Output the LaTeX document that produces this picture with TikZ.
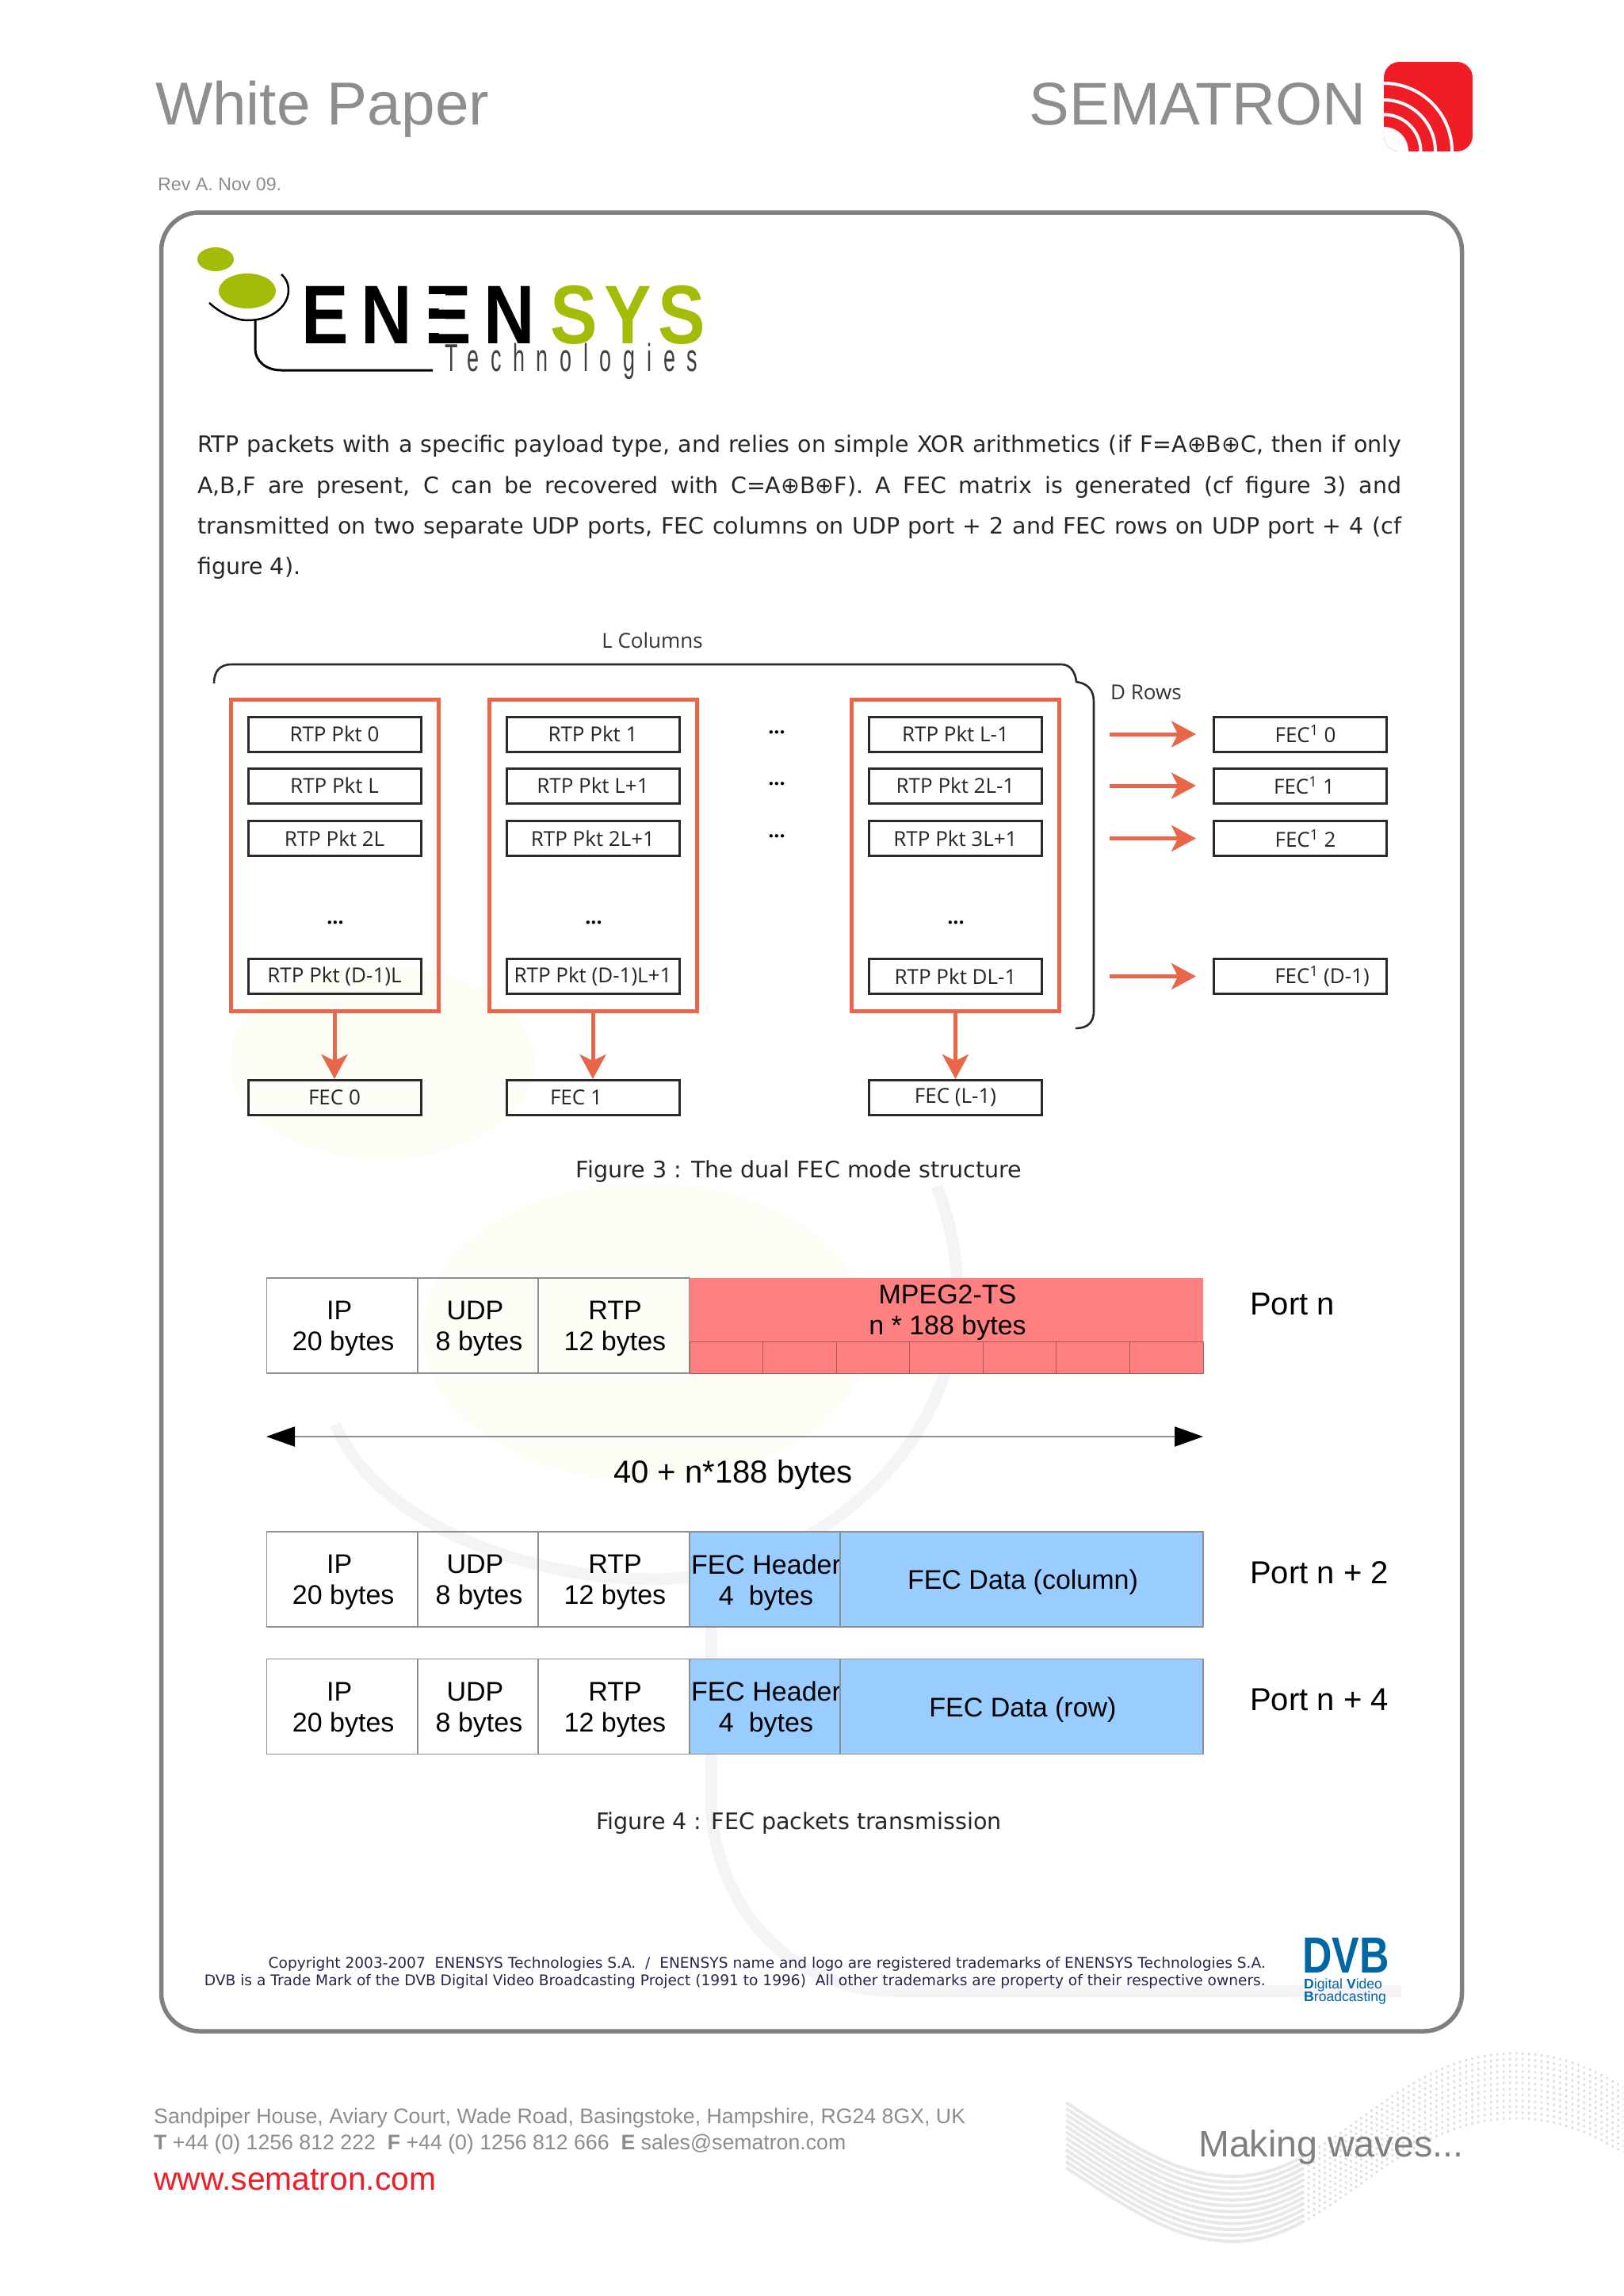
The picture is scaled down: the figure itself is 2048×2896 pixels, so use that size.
\documentclass[tikz,border=0pt]{standalone}
\usepackage{fontspec}
\setmainfont{Liberation Sans}
\newfontfamily\bodyfont{DejaVu Sans}
\newfontfamily\figfont{Open Sans}
\newfontfamily\enenfont[FakeStretch=0.85,LetterSpace=15]{Liberation Sans}
\newfontfamily\sysfont[FakeStretch=0.85,LetterSpace=8]{Liberation Sans}
\newfontfamily\techfont[FakeStretch=0.55,LetterSpace=30]{Liberation Sans}
\newfontfamily\dvbfont[FakeStretch=0.81]{Liberation Sans}
\usetikzlibrary{arrows.meta,positioning}
\definecolor{pagegrey}{HTML}{808080}
\definecolor{titlegrey}{HTML}{8E8E8E}
\definecolor{footgrey}{HTML}{8C8C8C}
\definecolor{semared}{HTML}{F01C26}
\definecolor{fecorange}{HTML}{E8674A}
\definecolor{pktline}{HTML}{2A2A2A}
\definecolor{cellline}{HTML}{8E8E8E}
\definecolor{tsred}{HTML}{FF8080}
\definecolor{tsline}{HTML}{A85A5A}
\definecolor{fecblue}{HTML}{99CCFF}
\definecolor{enengreen}{HTML}{A4BC08}
\definecolor{dvbblue}{HTML}{0066A6}
\definecolor{copynavy}{HTML}{26264A}
\definecolor{markyellow}{HTML}{FDFDF6}
\definecolor{markgrey}{HTML}{F5F3F5}
\newcommand{\fsz}[1]{\fontsize{#1}{#1}\selectfont}
\tikzset{
  page/.style={x=1pt, y=-1pt},
  % the big rounded panel
  panel/.style={draw=pagegrey, line width=5.5pt, rounded corners=48pt, inner sep=0pt,
                minimum width=1641pt, minimum height=2294pt},
  % figure 3: packet boxes, columns and arrows
  pktbox/.style={draw=pktline, line width=3pt, inner sep=0pt, minimum width=218pt,
                 minimum height=44pt, font=\figfont\fsz{26}, text=black!85},
  colbox/.style={draw=fecorange, line width=5pt, inner sep=0pt, minimum width=262pt,
                 minimum height=393pt},
  fecarrow/.style={draw=fecorange, line width=5pt,
                   -{Stealth[length=31pt,width=33pt,inset=8pt]}},
  dotsmark/.style={font=\figfont\bfseries\fsz{25}, inner sep=0pt},
  figlabel/.style={font=\figfont\fsz{26}, text=black!80, inner sep=0pt},
  % figure 4: packet layout cells
  cell/.style={draw=cellline, line width=1.4pt, inner sep=0pt, minimum height=120pt},
  celltext/.style={align=center, inner sep=0pt, xshift=1.5pt, yshift=-4pt,
                   font=\fontsize{34}{39}\selectfont},
  tscell/.style={draw=tsline, line width=1pt, fill=tsred, inner sep=0pt,
                 minimum width=92.57pt, minimum height=40pt},
  portlabel/.style={font=\fsz{40}, anchor=west, inner sep=0pt},
  lenarrow/.style={draw=cellline, line width=2pt,
                   {Triangle[length=36pt,width=25pt,black]}-{Triangle[length=36pt,width=25pt,black]}},
  % running text
  bodytext/.style={font=\bodyfont\fontsize{28.5}{51.2}\selectfont, text=black!85, inner sep=0pt},
  caption/.style={font=\bodyfont\fsz{28.6}, text=black!85, inner sep=0pt},
  footnote/.style={font=\bodyfont\fsz{18.6}, text=copynavy, anchor=east, inner sep=0pt},
  foot/.style={font=\fsz{26.7}, text=footgrey, anchor=west, inner sep=0pt},
  % background watermark
  markarc/.style={draw=markgrey, line width=15pt},
  wavesolid/.style={draw=black!9, line width=4pt},
  wavedots/.style={draw=black!13, line width=3pt, dash pattern=on 2.5pt off 5.5pt},
}
% a packet box at a centre
\newcommand{\pk}[4]{\node[pktbox] (#1) at (#2,#3) {#4};}
% a cell between x=#3 and x=#4, in the row centred on y=#5, with its text on top
\newcommand{\cl}[6]{%
  \node[cell, #2, minimum width=#4pt-#3pt] (#1) at ({(#3+#4)/2},#5) {};%
  \node[celltext] (#1t) at (#1) {#6};%
}
% the three cells that start every row
\newcommand{\hdrrow}[2]{%
  \cl{ip#1}{}{336.5}{527}{#2}{IP\hspace*{10pt}\\20 bytes}
  \cl{udp#1}{}{527}{679}{#2}{UDP\hspace*{10pt}\\8 bytes}
  \cl{rtp#1}{}{679}{870}{#2}{RTP\\12 bytes}
}
\newcommand{\fecrow}[3]{%
  \cl{fh#1}{fill=fecblue}{870}{1060}{#2}{FEC Header\\4~~bytes}
  \cl{fd#1}{fill=fecblue}{1060}{1518}{#2}{#3}
}

\begin{document}
\begin{tikzpicture}[page]
  \useasboundingbox (0,0) rectangle (2048,2896);

  % watermark, behind everything
  \fill[markyellow] (482,1340) ellipse (192 and 122);
  \fill[markyellow] (815,1680) ellipse (282 and 188);
  \draw[markarc] (423,1797) .. controls (480,1930) and (680,1992) .. (825,1992)
    .. controls (1040,1992) and (1290,1780) .. (1182,1496);
  \draw[markarc] (897,1992) -- (897,2280) .. controls (905,2400) and (990,2511) .. (1130,2511) -- (1768,2511);

  % footer wave
  \foreach \d in {0,7.45,...,82} {
    \draw[wavesolid] (1345,2652+\d) .. controls (1440,2715+\d) and (1490,2745+\d) .. (1557,2745+\d)
      .. controls (1587.75,2745+\d) and (1615.8,2735.3+\d) .. (1643,2720.7+\d);
    \draw[wavedots] (1643,2720.7+\d) .. controls (1724.4,2677+\d) and (1797.5,2590+\d) .. (1910,2590+\d)
      .. controls (1970,2590+\d) and (2010,2610+\d) .. (2048,2633+\d);
  }

  % page header
  \node[font=\fsz{76.5}, text=titlegrey, anchor=base west, inner sep=0pt] (title) at (196,157) {White Paper};
  \node[font=\fsz{76}, text=titlegrey, anchor=base east, inner sep=0pt] (brand) at (1724,157) {SEMATRON};
  \begin{scope}
    \clip[rounded corners=20pt] (1746,191) -- (1746,78) -- (1858,78) -- (1858,191) -- cycle;
    \fill[semared] (1746,78) rectangle (1858,191);
    \fill[white] (1746,191) circle (31);
    \foreach \r in {46.5,65,86}
      \draw[white, line width=4pt] (1746,191) circle (\r);
  \end{scope}
  \node[foot, font=\fsz{23.2}] (rev) at (199,233) {Rev A. Nov 09.};

  \node[panel] (panel) at (1024,1415) {};

  % ENENSYS logo
  \fill[enengreen] (272,327) ellipse (23 and 15);
  \fill[enengreen] (312,367) ellipse (36 and 22);
  \draw[black, line width=2.5pt] (264,382) .. controls (280,397) and (300,404) .. (312,404)
    .. controls (345,404) and (364,385) .. (364,366) .. controls (364,357) and (360,350) .. (355,346);
  \draw[black, line width=3pt] (322,404) -- (322,440) .. controls (322,455) and (335,467) .. (355,467) -- (546,467);
  \node[font=\enenfont\bfseries\fsz{105}, anchor=base west, inner sep=0pt] (enen) at (380,433) {ENEN};
  \fill[white] (540,371) rectangle (562,389);
  \fill[white] (540,402) rectangle (562,420);
  \node[font=\sysfont\bfseries\fsz{105}, text=enengreen, anchor=base east, inner sep=0pt] (sys) at (890,433) {SYS};
  \node[font=\techfont\fsz{49}, text=black!75, anchor=base west, inner sep=0pt] (tech) at (561,468) {Technologies};

  % paragraph
  \node[bodytext, text width=1519pt, align=justify, anchor=north west] (para) at (249,549)
    {RTP packets with a specific payload type, and relies on simple XOR arithmetics (if F=A⊕B⊕C, then if only\linebreak
     A,B,F are present, C can be recovered with C=A⊕B⊕F). A FEC matrix is generated (cf figure 3) and\linebreak
     transmitted on two separate UDP ports, FEC columns on UDP port + 2 and FEC rows on UDP port + 4 (cf\linebreak
     figure 4).};

  % ----- figure 3 -----
  \node[figlabel] (lcols) at (823,808) {L Columns};
  \node[figlabel] (drows) at (1446,873) {D Rows};
  \draw[pktline, line width=2.6pt] (270,862) .. controls (270,846) and (278,838) .. (292,838) -- (1339,838)
    .. controls (1352,838) and (1357,850) .. (1358,860) .. controls (1372,862) and (1380,870) .. (1380,885)
    -- (1380,1275) .. controls (1380,1290) and (1372,1297) .. (1357,1297);

  \node[colbox] (col0) at (422,1078.5) {};
  \node[colbox] (col1) at (748.5,1078.5) {};
  \node[colbox] (col2) at (1205.5,1078.5) {};

  \pk{a0}{422}{926}{RTP Pkt 0}
  \pk{a1}{422}{991}{RTP Pkt L}
  \pk{a2}{422}{1057.5}{RTP Pkt 2L}
  \pk{a3}{422}{1231.5}{RTP Pkt (D-1)L}
  \pk{b0}{748}{926}{RTP Pkt 1}
  \pk{b1}{748}{991}{RTP Pkt L+1}
  \pk{b2}{748}{1057.5}{RTP Pkt 2L+1}
  \pk{b3}{748}{1231.5}{RTP Pkt (D-1)L+1}
  \pk{c0}{1205.5}{926}{RTP Pkt L-1}
  \pk{c1}{1205.5}{991}{RTP Pkt 2L-1}
  \pk{c2}{1205.5}{1057.5}{RTP Pkt 3L+1}
  \pk{c3}{1205.5}{1231.5}{RTP Pkt DL-1}

  \node[dotsmark] (da) at (423,1164) {...};
  \node[dotsmark] (db) at (749,1164) {...};
  \node[dotsmark] (dc) at (1206,1164) {...};
  \node[dotsmark] (d0) at (980,924) {...};
  \node[dotsmark] (d1) at (980,989) {...};
  \node[dotsmark] (d2) at (980,1055) {...};

  \pk{fc0}{422}{1384.5}{FEC 0}
  \pk{fc1}{748}{1384.5}{FEC 1\hspace*{42pt}}
  \pk{fc2}{1205.5}{1384.5}{FEC (L-1)}
  \pk{fr0}{1640.5}{926}{\hspace*{13pt}FEC\textsuperscript{1} 0}
  \pk{fr1}{1640.5}{991}{\hspace*{10pt}FEC\textsuperscript{1} 1}
  \pk{fr2}{1640.5}{1057.5}{\hspace*{13pt}FEC\textsuperscript{1} 2}
  \pk{fr3}{1640.5}{1231.5}{\hspace*{55pt}FEC\textsuperscript{1} (D-1)}

  \draw[fecarrow] (col0.south -| fc0) -- (fc0.north);
  \draw[fecarrow] (col1.south -| fc1) -- (fc1.north);
  \draw[fecarrow] (col2.south -| fc2) -- (fc2.north);
  \foreach \i/\y in {0/926,1/991,2/1057.5,3/1231.5} {
    \coordinate (rs\i) at (1400,\y);
    \draw[fecarrow, shorten >=21pt] (rs\i) -- (fr\i.west);
  }

  \node[caption] (cap3) at (1008,1478) {Figure 3 : The dual FEC mode structure};

  % ----- figure 4 -----
  \hdrrow{1}{1672}
  \node[cell, fill=tsred, minimum width=648pt, minimum height=80pt, draw=none] (ts) at (1194,1652) {};
  \node[celltext] (tst) at (ts) {MPEG2-TS\\n * 188 bytes};
  \foreach \i in {0,...,6}
    \node[tscell] (ts\i) at ({870+92.57*(\i+0.5)},1712) {};

  \node[portlabel] (port0) at (1577,1645) {Port n};

  \coordinate (lenl) at (336,1812);
  \coordinate (lenr) at (1518,1812);
  \draw[lenarrow] (lenl) -- (lenr);
  \node[font=\fsz{40}, inner sep=0pt] (lenlab) at (925,1860) {40 + n*188 bytes};

  \hdrrow{2}{1992}
  \fecrow{2}{1992}{FEC Data (column)}
  \node[portlabel] (port2) at (1577,1984) {Port n + 2};

  \hdrrow{3}{2152.5}
  \fecrow{3}{2152.5}{FEC Data (row)}
  \node[portlabel] (port4) at (1577,2144) {Port n + 4};

  \node[caption] (cap4) at (1008,2300) {Figure 4 : FEC packets transmission};

  % copyright, DVB mark
  \node[footnote] (copy1) at (1597,2477) {Copyright 2003-2007~~ENENSYS Technologies S.A.~~/~~ENENSYS name and logo are registered trademarks of ENENSYS Technologies S.A.};
  \node[footnote] (copy2) at (1597,2499) {DVB is a Trade Mark of the DVB Digital Video Broadcasting Project (1991 to 1996)~~All other trademarks are property of their respective owners.};
  \node[font=\dvbfont\bfseries\fsz{64}, text=dvbblue, anchor=base west, inner sep=0pt] (dvb) at (1643,2488) {DVB};
  \node[font=\fsz{17.6}, text=dvbblue, anchor=base west, inner sep=0pt] (dvb1) at (1645,2508) {\textbf{D}igital \textbf{V}ideo};
  \node[font=\fsz{17.6}, text=dvbblue, anchor=base west, inner sep=0pt] (dvb2) at (1645,2524) {\textbf{B}roadcasting};

  % page footer
  \node[foot] (addr) at (194,2672) {Sandpiper House, Aviary Court, Wade Road, Basingstoke, Hampshire, RG24 8GX, UK};
  \node[foot] (tel) at (194,2705) {\textbf{T} +44 (0) 1256 812 222~~\textbf{F} +44 (0) 1256 812 666~~\textbf{E} sales@sematron.com};
  \node[foot, font=\fsz{40.8}, text=semared] (www) at (194,2749) {www.sematron.com};
  \node[foot, font=\fsz{46.6}, text=pagegrey] (wave) at (1512,2708) {Making waves...};
\end{tikzpicture}
\end{document}
